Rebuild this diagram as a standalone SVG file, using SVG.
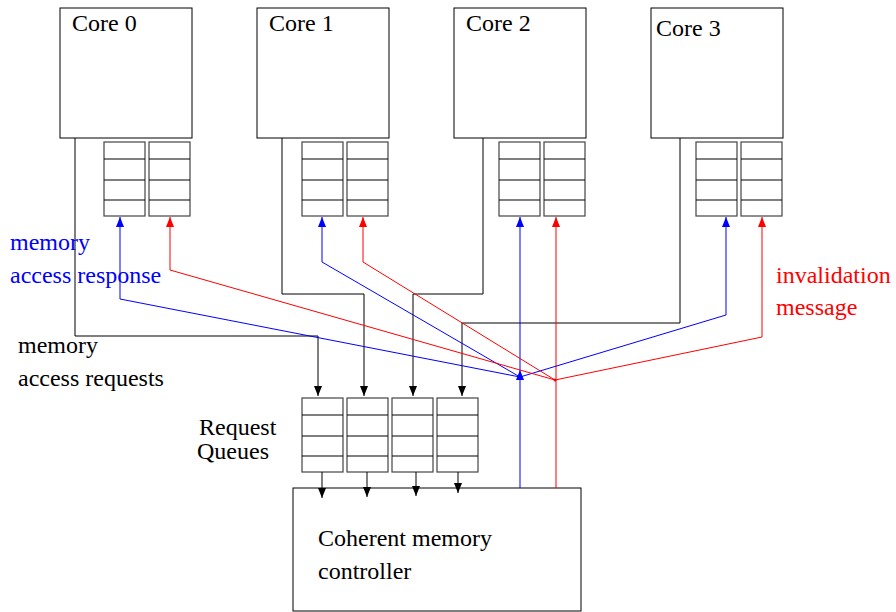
<svg xmlns="http://www.w3.org/2000/svg" width="896" height="612" viewBox="0 0 896 612">
<defs>
<marker id="ak" markerWidth="10" markerHeight="8" refX="10" refY="4" orient="auto" markerUnits="userSpaceOnUse"><path d="M0,0 L10,4 L0,8 Z" fill="#000"/></marker>
<marker id="ab" markerWidth="10" markerHeight="8" refX="10" refY="4" orient="auto" markerUnits="userSpaceOnUse"><path d="M0,0 L10,4 L0,8 Z" fill="#00f"/></marker>
<marker id="ar" markerWidth="10" markerHeight="8" refX="10" refY="4" orient="auto" markerUnits="userSpaceOnUse"><path d="M0,0 L10,4 L0,8 Z" fill="#f00"/></marker>
<g id="q">
<rect x="0" y="0" width="41" height="74" fill="#fff" stroke="#444" stroke-width="1.2"/>
<path d="M0,17 H41 M0,38 H41 M0,58 H41" stroke="#000" stroke-width="1" fill="none"/>
</g>
</defs>
<style>
.box{fill:#fff;stroke:#000;stroke-width:1}
.t{font-family:"Liberation Serif",serif;font-size:24px}
.k{fill:none;stroke:#000;stroke-width:1}
.b{fill:none;stroke:#00f;stroke-width:1}
.r{fill:none;stroke:#f00;stroke-width:1}
</style>
<rect width="896" height="612" fill="#fff"/>
<g id="core0"><rect class="box" x="60" y="8" width="132" height="130"/><text class="t" x="72" y="31">Core 0</text></g>
<g id="core1"><rect class="box" x="257" y="8" width="132" height="130"/><text class="t" x="269" y="31">Core 1</text></g>
<g id="core2"><rect class="box" x="454" y="8" width="132" height="130"/><text class="t" x="466" y="31">Core 2</text></g>
<g id="core3"><rect class="box" x="651" y="8" width="132" height="130"/><text class="t" x="656" y="36">Core 3</text></g>
<g id="queues0"><use href="#q" x="104" y="142"/><use href="#q" x="149" y="142"/></g>
<g id="queues1"><use href="#q" x="302" y="142"/><use href="#q" x="347" y="142"/></g>
<g id="queues2"><use href="#q" x="499" y="142"/><use href="#q" x="544" y="142"/></g>
<g id="queues3"><use href="#q" x="696" y="142"/><use href="#q" x="741" y="142"/></g>
<g id="request-queues"><use href="#q" x="302" y="398"/><use href="#q" x="347" y="398"/><use href="#q" x="392" y="398"/><use href="#q" x="437" y="398"/>
<text class="t" x="199" y="435">Request</text><text class="t" x="197" y="459">Queues</text></g>
<g id="controller"><rect class="box" x="293" y="488" width="288" height="123"/>
<text class="t" x="318" y="546">Coherent memory</text><text class="t" x="318" y="579">controller</text></g>
<g id="connectors">
<polyline class="k" points="75,138 75,336 318,336 318,396" marker-end="url(#ak)"/>
<polyline class="k" points="282,138 282,294 364,294 364,396" marker-end="url(#ak)"/>
<polyline class="k" points="483,138 483,294 413,294 413,396" marker-end="url(#ak)"/>
<polyline class="k" points="680,138 680,323 462,323 462,396" marker-end="url(#ak)"/>
<line class="k" x1="322" y1="472" x2="322" y2="498" marker-end="url(#ak)"/>
<line class="k" x1="367" y1="472" x2="367" y2="497" marker-end="url(#ak)"/>
<line class="k" x1="416" y1="472" x2="416" y2="496" marker-end="url(#ak)"/>
<line class="k" x1="458" y1="472" x2="458" y2="493" marker-end="url(#ak)"/>
<line class="b" x1="520" y1="488" x2="520" y2="370" marker-end="url(#ab)"/>
<line class="b" x1="520" y1="370" x2="520" y2="217" marker-end="url(#ab)"/>
<line class="r" x1="556" y1="488" x2="556" y2="217" marker-end="url(#ar)"/>
<polyline class="b" points="520,377 120,299 120,217" marker-end="url(#ab)"/>
<polyline class="b" points="520,377 322,262 322,217" marker-end="url(#ab)"/>
<polyline class="b" points="520,377 726,315 726,217" marker-end="url(#ab)"/>
<polyline class="r" points="555,380 170,270 170,217" marker-end="url(#ar)"/>
<polyline class="r" points="555,380 363,262 363,217" marker-end="url(#ar)"/>
<polyline class="r" points="555,380 762,337 762,217" marker-end="url(#ar)"/>
<circle cx="555" cy="380" r="1.5" fill="#f00"/>
</g>
<g id="labels">
<text class="t" x="10" y="250" fill="#00f">memory</text>
<text class="t" x="10" y="283" fill="#00f">access response</text>
<text class="t" x="18" y="353">memory</text>
<text class="t" x="18" y="386">access requests</text>
<text class="t" x="776" y="283" fill="#f00">invalidation</text>
<text class="t" x="776" y="315" fill="#f00">message</text>
</g>
</svg>
